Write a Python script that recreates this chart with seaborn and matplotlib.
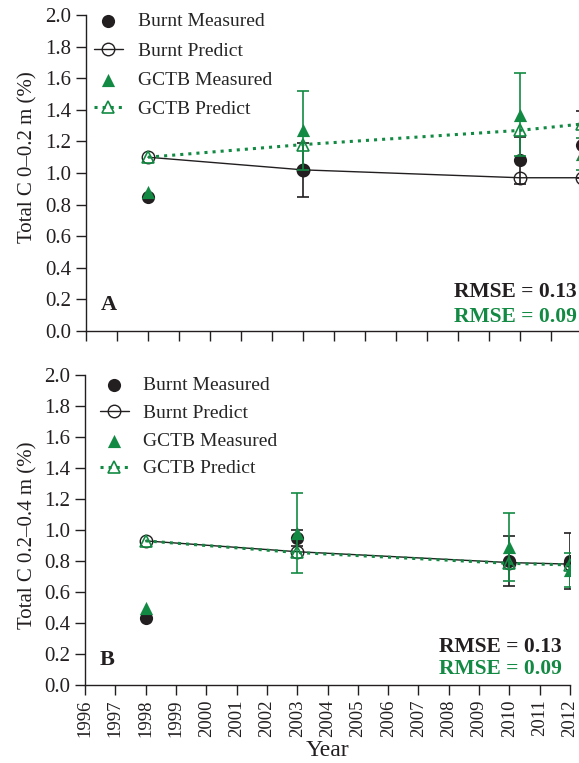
import matplotlib
matplotlib.use('Agg')
import matplotlib.pyplot as plt
import seaborn as sns

# sampling years
years = [1998, 2003, 2010, 2012]
err_years = [2003, 2010, 2012]

# panel A, 0-0.2 m
burnt_meas_a = [0.85, 1.02, 1.08, 1.18]
burnt_err_a = [0.17, 0.15, 0.21]
burnt_pred_a = [1.10, 1.02, 0.97, 0.97]
gctb_meas_a = [0.88, 1.27, 1.37, 1.12]
gctb_err_a = [0.25, 0.26, 0.10]
gctb_pred_a = [1.10, 1.18, 1.27, 1.31]

# panel B, 0.2-0.4 m
burnt_meas_b = [0.43, 0.95, 0.80, 0.80]
burnt_err_b = [0.05, 0.16, 0.18]
burnt_pred_b = [0.93, 0.86, 0.79, 0.78]
gctb_meas_b = [0.50, 0.98, 0.89, 0.74]
gctb_err_b = [0.26, 0.22, 0.11]
gctb_pred_b = [0.93, 0.855, 0.785, 0.775]

ylabels = ['Total C 0\u20130.2 m (%)', 'Total C 0.2\u20130.4 m (%)']
panel_letters = ['A', 'B']
rmse_burnt = ['RMSE = 0.13', 'RMSE = 0.13']
rmse_gctb = ['RMSE = 0.09', 'RMSE = 0.09']

black = '#231f20'
green = '#138a43'

sns.set_style('ticks')
plt.rcParams['font.family'] = ['Liberation Serif', 'DejaVu Serif']

fig = plt.figure(figsize=(5.79, 7.63), dpi=100)
ax_a = fig.add_axes([0.1485, 0.5662, 0.8566, 0.4141])
ax_b = fig.add_axes([0.1468, 0.1022, 0.8377, 0.4063])


def draw_panel(ax, bm, be, bp, gm, ge, gp):
    ax.errorbar(err_years, bm[1:], yerr=be, fmt='none', ecolor=black,
                elinewidth=1.2, capsize=4.5, capthick=1.2, zorder=2)
    sns.scatterplot(x=years, y=bm, ax=ax, color=black, marker='o', s=90,
                    edgecolor=black, linewidth=0, label='Burnt Measured', zorder=3)
    sns.lineplot(x=years, y=bp, ax=ax, color=black, lw=1, marker='o', ms=9,
                 markerfacecolor='none', markeredgecolor=black, markeredgewidth=1,
                 label='Burnt Predict', zorder=4)
    ax.errorbar(err_years, gm[1:], yerr=ge, fmt='none', ecolor=green,
                elinewidth=1.2, capsize=4.5, capthick=1.2, zorder=5)
    sns.scatterplot(x=years, y=gm, ax=ax, color=green, marker='^', s=90,
                    edgecolor=green, linewidth=0, label='GCTB Measured', zorder=6)
    sns.lineplot(x=years, y=gp, ax=ax, color=green, lw=2.2, ls=':', marker='^', ms=9,
                 markerfacecolor='none', markeredgecolor=green, markeredgewidth=1.2,
                 label='GCTB Predict', zorder=7)


draw_panel(ax_a, burnt_meas_a, burnt_err_a, burnt_pred_a,
           gctb_meas_a, gctb_err_a, gctb_pred_a)
draw_panel(ax_b, burnt_meas_b, burnt_err_b, burnt_pred_b,
           gctb_meas_b, gctb_err_b, gctb_pred_b)

label_y = [0.55, 0.484]
legend_anchor = [(0.0, 1.032), (0.014, 1.02)]
legend_spacing = [0.6, 0.52]
rmse_x = [0.99, 0.983]
rmse_y1 = [0.123, 0.123]
rmse_y2 = [0.044, 0.052]

for i, ax in enumerate([ax_a, ax_b]):
    ax.set_xlim(1996, 2012)
    ax.set_ylim(0, 2.0)
    ax.set_xticks(range(1996, 2013))
    ax.set_yticks([0.0, 0.2, 0.4, 0.6, 0.8, 1.0, 1.2, 1.4, 1.6, 1.8, 2.0])
    ax.set_yticklabels(['%.1f' % v for v in ax.get_yticks()])
    sns.despine(ax=ax)
    for s in ['left', 'bottom']:
        ax.spines[s].set_color(black)
        ax.spines[s].set_linewidth(1)
    ax.tick_params(axis='both', direction='out', length=7, width=1,
                   color=black, labelcolor=black, labelsize=15)
    ax.set_ylabel(ylabels[i], fontsize=15, color=black)
    ax.yaxis.set_label_coords(-0.097, label_y[i])
    ax.text(0.046, 0.082, panel_letters[i], transform=ax.transAxes,
            fontsize=16, fontweight='bold', color=black, ha='center', va='center')
    ax.text(rmse_x[i], rmse_y1[i], rmse_burnt[i],
            transform=ax.transAxes, fontsize=15.5, fontweight='bold', color=black,
            ha='right', va='center')
    ax.text(rmse_x[i], rmse_y2[i], rmse_gctb[i],
            transform=ax.transAxes, fontsize=15.5, fontweight='bold', color=green,
            ha='right', va='center')
    handles, labels = ax.get_legend_handles_labels()
    ax.legend(handles, labels, loc='upper left', bbox_to_anchor=legend_anchor[i],
              frameon=False, fontsize=14, handlelength=1.5, handletextpad=0.75,
              labelspacing=legend_spacing[i], borderaxespad=0.0, borderpad=0.4)

ax_a.set_xticklabels([])
ax_a.set_xlabel('')
ax_b.set_xticklabels([str(y) for y in range(1996, 2013)], rotation=90, fontsize=13.5)
ax_b.set_xlabel('Year', fontsize=17, color=black, labelpad=2)

fig.savefig('out.png', dpi=100)
